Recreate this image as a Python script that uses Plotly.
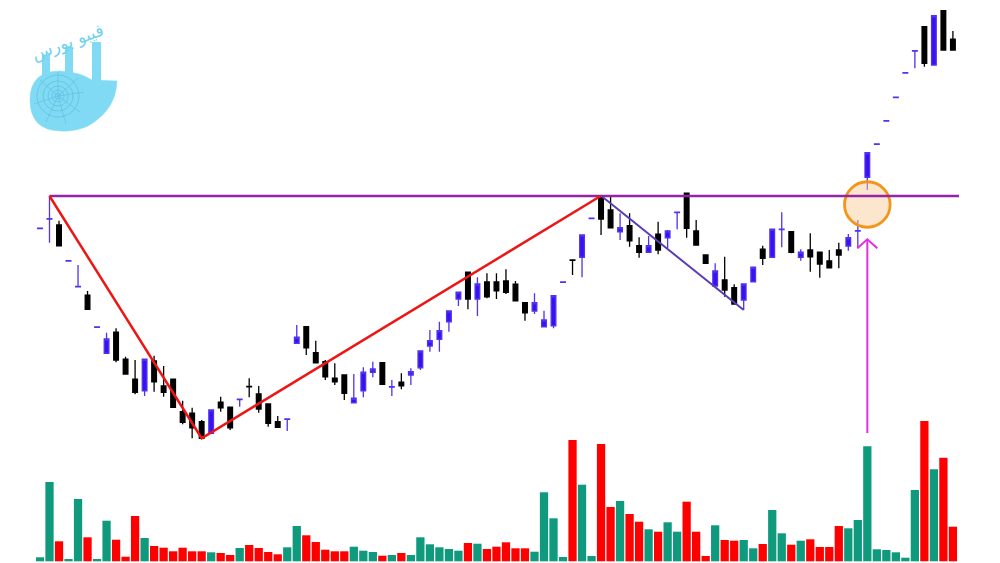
import plotly.graph_objects as go

# ---------------- data ----------------
idx = list(range(97))

opens = [1870, 1908, 1884, 1740, 1637, 1603, 1475, 1371, 1455, 1347,
         1267, 1221, 1340, 1240, 1267, 1137, 1131, 1097, 1051, 1175,
         1155, 1186, 1238, 1208, 1168, 1097, 1107, 1411, 1477, 1373,
         1337, 1271, 1284, 1173, 1221, 1295, 1333, 1236, 1255, 1284,
         1313, 1400, 1427, 1497, 1588, 1695, 1588, 1656, 1656, 1660,
         1647, 1573, 1540, 1477, 1481, 1655, 1744, 1755, 1910, 2001,
         1944, 1857, 1881, 1801, 1775, 1847, 1833, 1934, 2011, 1860,
         1764, 1640, 1664, 1633, 1584, 1657, 1787, 1755, 1866, 1857,
         1755, 1784, 1775, 1740, 1784, 1800, 1860, 2075, 2207, 2300,
         2394, 2492, 2580, 2677, 2524, 2741, 2627]
highs = [1871, 2000, 1901, 1741, 1724, 1620, 1476, 1453, 1471, 1357,
         1344, 1347, 1361, 1320, 1267, 1181, 1153, 1104, 1144, 1197,
         1155, 1187, 1271, 1240, 1171, 1120, 1108, 1484, 1477, 1421,
         1344, 1331, 1284, 1288, 1315, 1337, 1333, 1264, 1291, 1311,
         1380, 1464, 1497, 1540, 1615, 1695, 1675, 1691, 1691, 1707,
         1660, 1573, 1611, 1541, 1601, 1656, 1744, 1844, 1911, 2001,
         2001, 1931, 1931, 1835, 1840, 1897, 1864, 1935, 2011, 1904,
         1764, 1731, 1757, 1647, 1648, 1715, 1801, 1867, 1935, 1857,
         1787, 1851, 1775, 1784, 1813, 1848, 1904, 2173, 2208, 2301,
         2395, 2493, 2581, 2677, 2721, 2741, 2660]
lows = [1870, 1813, 1801, 1740, 1637, 1547, 1475, 1371, 1335, 1288,
        1207, 1200, 1217, 1197, 1155, 1087, 1031, 1031, 1051, 1137,
        1064, 1157, 1195, 1133, 1077, 1075, 1060, 1411, 1364, 1333,
        1264, 1244, 1184, 1173, 1195, 1275, 1247, 1200, 1227, 1244,
        1304, 1377, 1377, 1457, 1560, 1547, 1520, 1591, 1588, 1608,
        1581, 1501, 1528, 1477, 1471, 1655, 1684, 1675, 1910, 1844,
        1873, 1824, 1797, 1753, 1775, 1767, 1791, 1867, 1833, 1804,
        1731, 1640, 1597, 1568, 1544, 1657, 1724, 1755, 1795, 1771,
        1741, 1697, 1673, 1713, 1711, 1781, 1791, 2024, 2207, 2300,
        2394, 2492, 2511, 2517, 2524, 2584, 2584]
closes = [1871, 1909, 1801, 1741, 1638, 1547, 1476, 1428, 1344, 1288,
          1215, 1347, 1257, 1215, 1155, 1095, 1073, 1031, 1144, 1153,
          1073, 1187, 1237, 1148, 1091, 1075, 1108, 1435, 1393, 1333,
          1277, 1257, 1211, 1191, 1295, 1308, 1247, 1237, 1241, 1297,
          1380, 1421, 1461, 1540, 1615, 1588, 1648, 1597, 1621, 1615,
          1581, 1533, 1573, 1504, 1601, 1656, 1743, 1844, 1911, 1908,
          1873, 1873, 1821, 1775, 1801, 1784, 1860, 1935, 1871, 1804,
          1731, 1700, 1624, 1568, 1648, 1715, 1751, 1867, 1867, 1775,
          1775, 1757, 1728, 1713, 1764, 1833, 1861, 2173, 2208, 2301,
          2395, 2493, 2581, 2531, 2721, 2584, 2584]
volumes = [100, 1983, 500, 58, 1558, 600, 58, 1015, 540, 115,
           1133, 583, 383, 340, 250, 340, 250, 250, 225, 208,
           158, 333, 408, 333, 233, 175, 350, 883, 650, 483,
           290, 250, 250, 365, 265, 233, 140, 158, 208, 158,
           600, 425, 350, 308, 265, 458, 440, 308, 365, 475,
           325, 325, 240, 1725, 1075, 108, 3033, 1915, 133, 2933,
           1358, 1508, 1183, 990, 800, 740, 975, 740, 1490, 740,
           133, 900, 533, 515, 533, 325, 433, 1283, 700, 415,
           515, 550, 358, 358, 883, 825, 1033, 2875, 300, 283,
           225, 90, 1783, 3508, 2300, 2590, 865]

logo_text = "فیبو بورس"

# ---------------- styling ----------------
BLUE_BODY = "#3a10f2"
BLUE_LINE = "#4f33ee"
GREEN = "#0f9a7e"
RED = "#ff0000"

vol_colors = [GREEN if c > o else RED for o, c in zip(opens, closes)]

W, H = 1000, 563
ML, MR, MT, MB = 36, 41, 0, 0
PW = W - ML - MR

def X(px):
    return (px - ML) / PW

def Y(py):
    return 1 - (py - MT) / (H - MT - MB)

fig = go.Figure()

fig.add_trace(go.Bar(
    x=idx, y=volumes, yaxis="y2",
    marker=dict(color=vol_colors, line=dict(width=0)),
    hoverinfo="skip", showlegend=False,
))

fig.add_trace(go.Candlestick(
    x=idx, open=opens, high=highs, low=lows, close=closes,
    increasing=dict(line=dict(color=BLUE_LINE, width=1.3), fillcolor=BLUE_BODY),
    decreasing=dict(line=dict(color="#000000", width=1.3), fillcolor="#000000"),
    hoverinfo="skip", showlegend=False,
))

x_min, x_max = -0.42, 96.64
resistance = highs[1]
breakout = 87

shapes = []
# breakout circle
shapes.append(dict(type="circle", xref="x", yref="y",
                   x0=breakout - 2.4, x1=breakout + 2.4, y0=1966 - 91, y1=1966 + 91,
                   line=dict(color="#f2961a", width=2.8),
                   fillcolor="rgba(251,205,158,0.5)", layer="above"))
# resistance line
shapes.append(dict(type="line", xref="x", yref="y", x0=1, x1=x_max,
                   y0=resistance, y1=resistance,
                   line=dict(color="#9424a8", width=2.5), layer="above"))
# red V pattern
shapes.append(dict(type="path", xref="x", yref="y",
                   path=f"M {1},{highs[1]} L {17},{lows[17]} L {59},{highs[59]}",
                   line=dict(color="#ee1515", width=2.5), layer="above"))
# purple pullback
shapes.append(dict(type="line", xref="x", yref="y", x0=59, y0=highs[59], x1=74, y1=lows[74],
                   line=dict(color="#5b3db5", width=2), layer="above"))
# magenta arrow
arrow_tip = 1827
arrow_base = 1052
shapes.append(dict(type="line", xref="x", yref="y", x0=breakout, x1=breakout,
                   y0=arrow_base, y1=arrow_tip,
                   line=dict(color="#e030e0", width=2), layer="above"))
shapes.append(dict(type="path", xref="x", yref="y",
                   path=f"M {breakout-1.05},{arrow_tip-36} L {breakout},{arrow_tip} L {breakout+1.05},{arrow_tip-36}",
                   line=dict(color="#e030e0", width=2), layer="above"))

# ---- logo (light-blue nautilus with bars) ----
LB = "#80daf4"
LBD = "#55b8dc"

def P(a, b):
    return f"{X(a):.5f},{Y(b):.5f}"

for (x0, y0, x1, y1) in [(42, 55, 50, 80), (65, 47, 73, 82), (92, 42, 101, 87)]:
    shapes.append(dict(type="rect", xref="paper", yref="paper",
                       x0=X(x0), x1=X(x1), y0=Y(y1), y1=Y(y0),
                       fillcolor=LB, line=dict(width=0), layer="above"))
# shell outline: round body on the left, flared lip to the upper right
shell = ("M " + P(30, 100)
         + " Q " + P(30, 71) + " " + P(60, 71)
         + " Q " + P(80, 72) + " " + P(92, 80)
         + " L " + P(117, 81)
         + " Q " + P(116, 110) + " " + P(88, 126)
         + " Q " + P(75, 132) + " " + P(60, 131)
         + " Q " + P(30, 130) + " " + P(30, 100) + " Z")
shapes.append(dict(type="path", xref="paper", yref="paper", path=shell,
                   fillcolor=LB, line=dict(color=LB, width=0.5), layer="above"))
# spiral chambers
cx, cy = 58, 96
for r in (3, 6, 10, 15, 21):
    shapes.append(dict(type="circle", xref="paper", yref="paper",
                       x0=X(cx - r), x1=X(cx + r), y0=Y(cy + r), y1=Y(cy - r),
                       fillcolor="rgba(0,0,0,0)", line=dict(color=LBD, width=0.6), layer="above"))
for (ex, ey) in [(58, 72), (78, 78), (84, 92), (80, 112), (66, 124), (46, 122), (34, 104), (40, 80)]:
    shapes.append(dict(type="line", xref="paper", yref="paper",
                       x0=X(cx), y0=Y(cy), x1=X(ex), y1=Y(ey),
                       line=dict(color=LBD, width=0.5), layer="above"))

annotations = [dict(
    text=logo_text, xref="paper", yref="paper", x=X(67), y=Y(42),
    xanchor="center", yanchor="middle",
    showarrow=False, textangle=-20,
    font=dict(family="DejaVu Sans", size=17, color="#6fd2ef"),
)]

fig.update_layout(
    width=W, height=H,
    margin=dict(l=ML, r=MR, t=MT, b=MB, pad=0),
    paper_bgcolor="white", plot_bgcolor="white",
    showlegend=False,
    bargap=0.13,
    xaxis=dict(range=[x_min, x_max], visible=False, rangeslider=dict(visible=False),
               showgrid=False, zeroline=False, fixedrange=True),
    yaxis=dict(range=[532, 2784], visible=False, showgrid=False, zeroline=False, fixedrange=True),
    yaxis2=dict(range=[-42.5, 14032.5], overlaying="y", visible=False,
                showgrid=False, zeroline=False, fixedrange=True),
    shapes=shapes,
    annotations=annotations,
)

fig.write_html("out.html", config={"displayModeBar": False, "staticPlot": True},
               post_script="document.body.style.margin='0';document.body.style.overflow='hidden';")
